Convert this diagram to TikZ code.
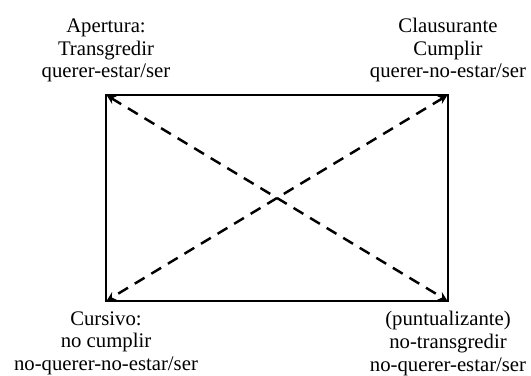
\documentclass[tikz,border=0pt]{standalone}
\usepackage{fontspec}
\setmainfont{Liberation Serif}
\usetikzlibrary{arrows.meta}
\begin{document}
\begin{tikzpicture}[
    corner/.style={font=\fontsize{11.8}{12.9}\selectfont,align=center,inner sep=0pt},
    diag/.style={{Stealth[length=5pt,width=5pt]}-{Stealth[length=5pt,width=5pt]},
      line width=1.4pt,dash pattern=on 6.5pt off 4.5pt,shorten <=0.5pt,shorten >=0.5pt}]
    \useasboundingbox (0,0) rectangle (10.62,7.5);
    % square corners
    \coordinate (ap) at (2.12,5.6);
    \coordinate (cl) at (8.96,5.6);
    \coordinate (cu) at (2.12,1.48);
    \coordinate (pu) at (8.96,1.48);
    % box
    \draw[line width=1.7pt] (ap) rectangle (pu);
    % diagonals
    \draw[diag] (ap) -- (pu);
    \draw[diag] (cl) -- (cu);
    % labels
    \node[corner,anchor=south] (apl) at ([yshift=0.25cm]ap)
      {Apertura:\\Transgredir\\querer-estar/ser};
    \node[corner,anchor=south] (cll) at ([yshift=0.25cm]cl)
      {Clausurante\\Cumplir\\querer-no-estar/ser};
    \node[corner,anchor=north] (cul) at ([yshift=-0.2cm]cu)
      {Cursivo:\\no cumplir\\no-querer-no-estar/ser};
    \node[corner,anchor=north] (pul) at ([yshift=-0.2cm]pu)
      {(puntualizante)\\no-transgredir\\no-querer-estar/ser};
\end{tikzpicture}
\end{document}
